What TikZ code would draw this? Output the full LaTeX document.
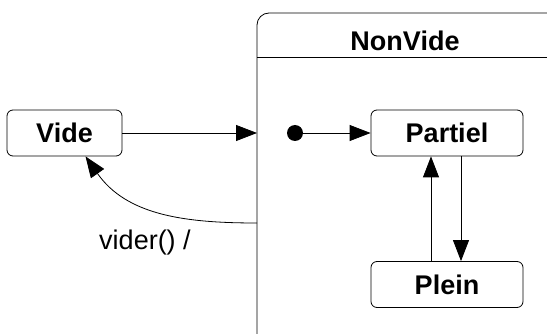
\documentclass[tikz,border=0pt]{standalone}
\usepackage{fontspec}
\setmainfont{Liberation Sans}
\usetikzlibrary{arrows.meta}
\tikzset{
  state/.style={draw, line width=0.8pt, rounded corners=6pt, inner sep=0pt,
    minimum width=152pt, minimum height=46pt,
    font=\fontsize{27}{32}\selectfont\bfseries},
  trans/.style={-{Triangle[length=21pt,width=16pt]}, line width=0.8pt},
}
\begin{document}
\begin{tikzpicture}[x=1pt,y=-1pt]
\useasboundingbox (0,0) rectangle (547,334);
\clip (0,0) rectangle (547,334);
% TEXT
\node at (405,41) (nonvide_title) {\fontsize{27}{32}\selectfont\bfseries NonVide};
\node at (145,243) (vider_label) {\fontsize{27}{32}\selectfont vider() /};
% STATES
\node[state, minimum width=115pt] at (64.5,133) (vide) {Vide};
\node[state] at (447,133) (partiel) {Partiel};
\node[state] at (447,284.5) (plein) {Plein};
\node[circle, fill, inner sep=0pt, minimum size=16pt] at (295,133) (init) {};
\begin{scope} % Composite state NonVide
\draw[line width=0.8pt, rounded corners=12pt] (257,13) rectangle (570,350);
\draw[line width=0.8pt] (257,57) -- (570,57);
\coordinate (nonvide_in) at (257,133);
\coordinate (nonvide_out) at (257,223);
\end{scope}
% TRANSITIONS
\draw[trans] (vide) -- (nonvide_in);
\draw[trans] (nonvide_out) to [out=180,in=-55] ([xshift=21pt]vide.south);
\draw[trans] (init) -- (partiel);
\draw[trans] ([xshift=14pt]partiel.south) -- ([xshift=14pt]plein.north);
\draw[trans] ([xshift=-16pt]plein.north) -- ([xshift=-16pt]partiel.south);
\end{tikzpicture}
\end{document}
